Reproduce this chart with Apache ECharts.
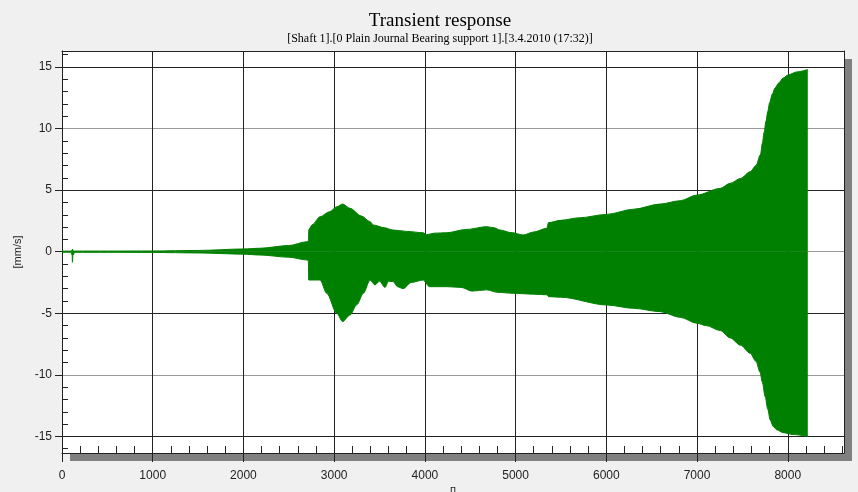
<!DOCTYPE html>
<html>
<head>
<meta charset="utf-8">
<title>Transient response</title>
<script src="https://cdn.jsdelivr.net/npm/echarts@6/dist/echarts.min.js"></script>
<style>
  html, body { margin: 0; padding: 0; background: #f0f0f0; }
  #main { width: 858px; height: 492px; }
</style>
</head>
<body>
<div id="main"></div>
<script>
// envelope of the response
var upperX = [0, 100, 118, 125, 140, 500, 1000, 1500, 2000, 2183, 2500, 2698, 2715, 2722, 2760, 2845, 2950, 3030, 3094, 3175, 3300, 3396, 3432, 3550, 3650, 3800, 3980, 4020, 4100, 4241, 4450, 4682, 4760, 4829, 4950, 5085, 5200, 5344, 5362, 5500, 5700, 6005, 6300, 6593, 6814, 6998, 7255, 7365, 7480, 7585, 7650, 7700, 7720, 7740, 7760, 7780, 7800, 7830, 7860, 7900, 7950, 8000, 8100, 8221];
var upperY = [0.05, 0.05, 0.2, 0.05, 0.05, 0.05, 0.06, 0.1, 0.22, 0.28, 0.5, 0.81, 0.85, 1.82, 2.2, 2.84, 3.25, 3.65, 3.87, 3.52, 2.9, 2.44, 2.17, 1.95, 1.76, 1.65, 1.54, 1.38, 1.5, 1.54, 1.8, 2.03, 1.95, 1.76, 1.55, 1.36, 1.6, 1.9, 2.36, 2.55, 2.75, 3.03, 3.45, 3.87, 4.14, 4.6, 5.14, 5.55, 5.95, 6.49, 7.0, 7.9, 8.8, 9.7, 10.6, 11.4, 12.1, 12.8, 13.3, 13.7, 14.1, 14.35, 14.6, 14.8];

var lowerX = [0, 100, 112, 115, 120, 140, 500, 1000, 1500, 2000, 2183, 2500, 2698, 2715, 2720, 2845, 2918, 3028, 3094, 3175, 3250, 3322, 3396, 3450, 3500, 3560, 3600, 3650, 3700, 3760, 3850, 3980, 4050, 4241, 4400, 4520, 4682, 4800, 4976, 5200, 5344, 5362, 5500, 6005, 6300, 6593, 6814, 6998, 7100, 7255, 7365, 7480, 7585, 7650, 7695, 7720, 7751, 7780, 7806, 7840, 7880, 7950, 8063, 8221];
var lowerY = [-0.05, -0.05, -0.3, -0.86, -0.3, -0.05, -0.05, -0.06, -0.1, -0.2, -0.27, -0.45, -0.67, -0.7, -2.3, -2.3, -3.38, -5.0, -5.68, -5.14, -4.3, -3.38, -2.3, -2.7, -2.4, -2.9, -2.4, -2.43, -2.85, -3.0, -2.5, -2.3, -2.84, -2.84, -2.9, -3.2, -3.1, -3.3, -3.38, -3.45, -3.5, -3.65, -3.7, -4.33, -4.6, -4.87, -5.33, -5.81, -6.0, -6.4, -7.0, -7.6, -8.25, -8.9, -9.8, -10.6, -11.77, -12.8, -13.66, -14.2, -14.47, -14.7, -14.85, -15.0];

var yMajorTicks = [-15, -10, -5, 0, 5, 10, 15];
var yMinorTicks = [-16, -14, -13, -12, -11, -9, -8, -7, -6, -4, -3, -2, -1, 1, 2, 3, 4, 6, 7, 8, 9, 11, 12, 13, 14, 16];

var green = '#008000';
var font = 'Liberation Sans';

function pairs(xs, ys) {
  return xs.map(function (x, i) { return [x, ys[i]]; });
}

// plain axis used only as a frame edge
function edgeAxis(pos, min, max) {
  return {
    type: 'value',
    position: pos,
    min: min, max: max,
    axisLine: { show: true, onZero: false, lineStyle: { color: '#222' } },
    axisTick: { show: false },
    axisLabel: { show: false },
    splitLine: { show: false }
  };
}

var chart = echarts.init(document.getElementById('main'));

var option = {
  backgroundColor: '#f0f0f0',
  animation: false,
  title: {
    text: 'Transient response',
    subtext: '[Shaft 1].[0 Plain Journal Bearing support 1].[3.4.2010 (17:32)]',
    left: 435,
    textAlign: 'center',
    top: 7,
    itemGap: 2,
    textStyle: { fontFamily: 'Liberation Serif', fontSize: 19, fontWeight: 'normal', color: '#000' },
    subtextStyle: { fontFamily: 'Liberation Serif', fontSize: 12, color: '#000' }
  },
  grid: {
    left: 62, top: 51, right: 14, bottom: 39,
    outerBoundsMode: 'none',
    show: true,
    backgroundColor: '#fff',
    borderWidth: 0,
    shadowColor: '#808080',
    shadowBlur: 0,
    shadowOffsetX: 8,
    shadowOffsetY: 8
  },
  xAxis: [
    {
      type: 'value',
      min: 0, max: 8620, interval: 1000,
      name: '[]',
      nameLocation: 'middle',
      nameGap: 29,
      nameTextStyle: { fontFamily: font, fontSize: 11, color: '#222' },
      axisLine: { show: true, onZero: false, lineStyle: { color: '#222' } },
      axisTick: { show: true, inside: false, length: 9, lineStyle: { color: '#222' } },
      axisLabel: {
        showMaxLabel: false, margin: 17, fontFamily: font, fontSize: 12, color: '#222',
        formatter: function (v) { return String(v); }
      },
      splitLine: { show: true, lineStyle: { color: '#222', width: 1 } }
    },
    {
      // minor ticks pointing into the plot
      type: 'value',
      position: 'bottom',
      min: 0, max: 8620, interval: 200,
      axisLine: { show: false, onZero: false },
      axisTick: { show: true, inside: true, length: 7, lineStyle: { color: '#222' } },
      axisLabel: { show: false },
      splitLine: { show: false }
    },
    edgeAxis('top', 0, 8620)
  ],
  yAxis: [
    {
      type: 'value',
      min: -16.35, max: 16.3,
      name: '[mm/s]',
      nameLocation: 'middle',
      nameGap: 39,
      nameTextStyle: { fontFamily: font, fontSize: 11, color: '#222' },
      axisLine: { show: true, onZero: false, lineStyle: { color: '#222' } },
      axisTick: { show: true, inside: false, length: 7, customValues: yMajorTicks, lineStyle: { color: '#222' } },
      axisLabel: { customValues: yMajorTicks, margin: 10, fontFamily: font, fontSize: 12, color: '#222' },
      splitLine: { show: true, lineStyle: { color: ['#222', '#999'], width: 1 } }
    },
    {
      type: 'value',
      position: 'left',
      min: -16.35, max: 16.3,
      axisLine: { show: false, onZero: false },
      axisTick: { show: true, inside: true, length: 6, customValues: yMinorTicks, lineStyle: { color: '#222' } },
      axisLabel: { show: false },
      splitLine: { show: false }
    },
    edgeAxis('right', -16.35, 16.3)
  ],
  series: [
    {
      name: 'upper',
      type: 'line',
      symbol: 'none',
      smooth: 0.3,
      smoothMonotone: 'x',
      lineStyle: { color: green, width: 1 },
      areaStyle: { color: green, opacity: 1, origin: 'auto' },
      data: pairs(upperX, upperY)
    },
    {
      name: 'lower',
      type: 'line',
      symbol: 'none',
      smooth: 0.3,
      smoothMonotone: 'x',
      lineStyle: { color: green, width: 1 },
      areaStyle: { color: green, opacity: 1, origin: 'auto' },
      data: pairs(lowerX, lowerY)
    }
  ]
};

chart.setOption(option);
</script>
</body>
</html>
